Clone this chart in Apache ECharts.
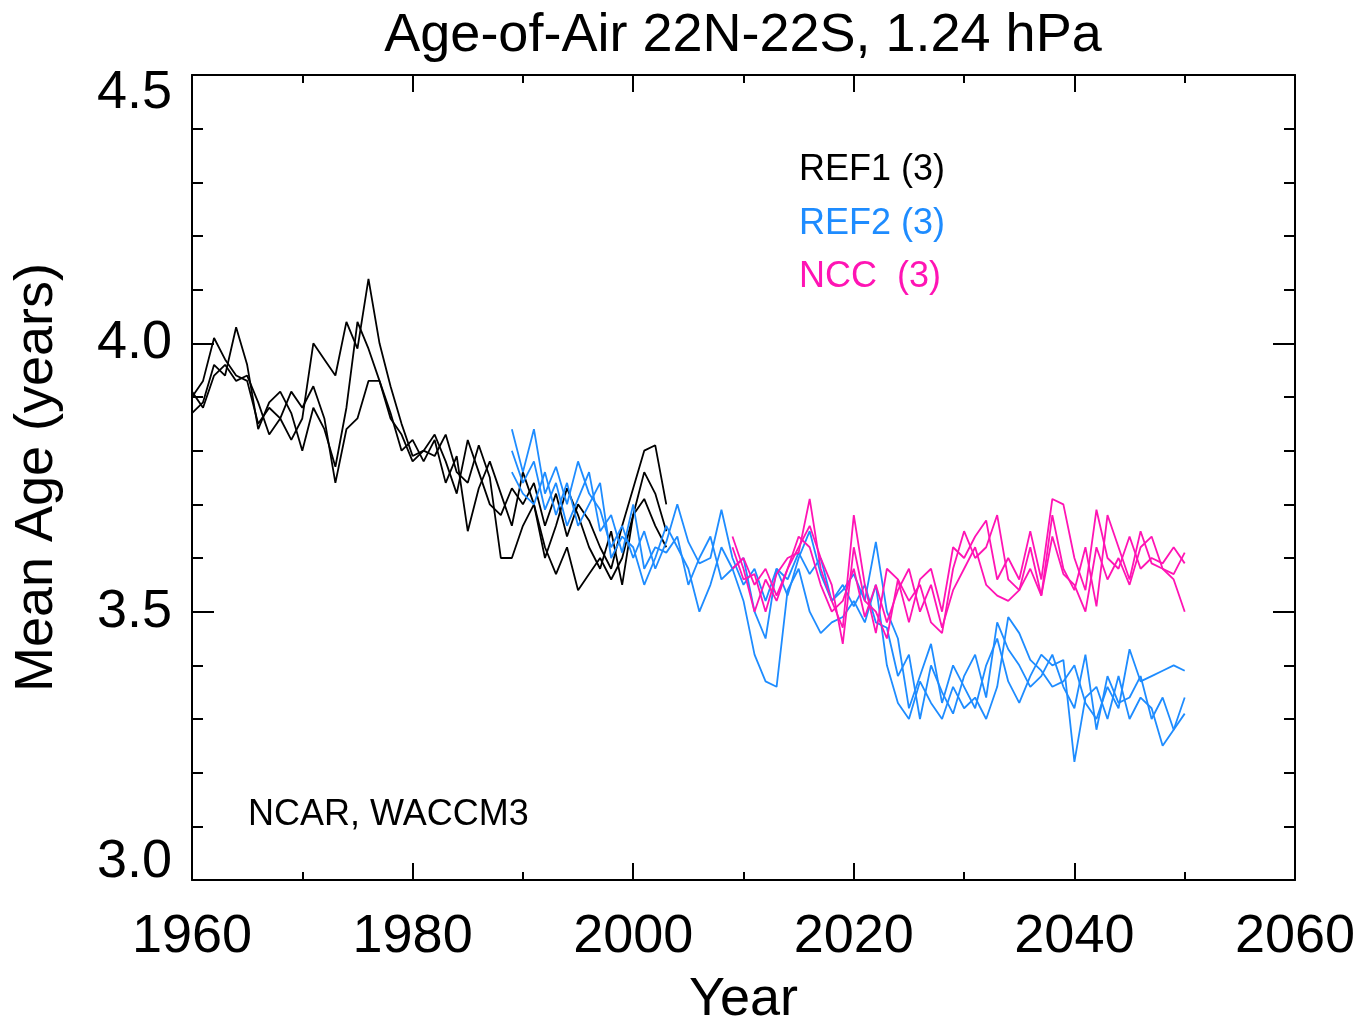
<!DOCTYPE html>
<html>
<head>
<meta charset="utf-8">
<script src="https://cdn.jsdelivr.net/npm/echarts@6/dist/echarts.min.js"></script>
<style>html,body{margin:0;padding:0;background:#fff}#c{width:1360px;height:1021px}</style>
</head>
<body>
<div id="c"></div>
<script>
// ---- data ----
const ref1Years = []; for (let y = 1960; y <= 2003; y++) ref1Years.push(y);
const ref2Years = []; for (let y = 1989; y <= 2050; y++) ref2Years.push(y);
const nccYears = []; for (let y = 2009; y <= 2050; y++) nccYears.push(y);

const ref1_a = [3.90,3.93,4.01,3.97,3.94,3.93,3.85,3.88,3.86,3.82,3.86,4.00,3.97,3.94,4.04,3.99,4.12,4.00,3.92,3.85,3.79,3.80,3.83,3.78,3.72,3.82,3.76,3.70,3.68,3.73,3.70,3.74,3.66,3.72,3.64,3.70,3.67,3.62,3.58,3.66,3.73,3.80,3.81,3.70];
const ref1_b = [3.87,3.89,3.96,3.94,4.03,3.96,3.84,3.89,3.91,3.87,3.80,3.88,3.84,3.77,3.88,4.04,3.99,3.93,3.87,3.80,3.82,3.78,3.82,3.74,3.79,3.65,3.73,3.78,3.72,3.66,3.76,3.70,3.60,3.66,3.73,3.68,3.62,3.58,3.65,3.55,3.68,3.76,3.72,3.65];
const ref1_c = [3.91,3.88,3.94,3.96,3.93,3.94,3.89,3.83,3.86,3.91,3.88,3.92,3.86,3.74,3.84,3.86,3.93,3.93,3.86,3.83,3.78,3.80,3.79,3.83,3.76,3.74,3.81,3.75,3.60,3.60,3.66,3.70,3.62,3.57,3.62,3.54,3.57,3.60,3.56,3.60,3.68,3.71,3.66,3.62];

const ref2_a = [3.84,3.76,3.84,3.72,3.77,3.70,3.78,3.72,3.69,3.62,3.66,3.60,3.65,3.58,3.63,3.70,3.63,3.59,3.60,3.69,3.60,3.55,3.58,3.52,3.58,3.56,3.61,3.57,3.60,3.52,3.54,3.57,3.52,3.63,3.50,3.45,3.32,3.38,3.44,3.33,3.40,3.36,3.32,3.40,3.45,3.37,3.33,3.38,3.42,3.40,3.41,3.22,3.34,3.36,3.30,3.38,3.30,3.34,3.32,3.25,3.28,3.34];
const ref2_b = [3.80,3.74,3.78,3.69,3.74,3.66,3.71,3.76,3.65,3.68,3.61,3.70,3.58,3.62,3.61,3.64,3.55,3.60,3.64,3.56,3.58,3.60,3.50,3.45,3.58,3.53,3.60,3.65,3.57,3.52,3.55,3.51,3.55,3.48,3.47,3.38,3.42,3.30,3.40,3.35,3.31,3.38,3.42,3.34,3.48,3.43,3.40,3.36,3.38,3.42,3.36,3.32,3.42,3.28,3.38,3.33,3.34,3.38,3.30,3.34,3.28,3.31];
const ref2_c = [3.76,3.72,3.70,3.76,3.68,3.74,3.66,3.70,3.74,3.60,3.64,3.62,3.55,3.60,3.66,3.62,3.58,3.50,3.55,3.62,3.58,3.52,3.42,3.37,3.36,3.54,3.58,3.50,3.46,3.48,3.49,3.52,3.48,3.55,3.40,3.33,3.30,3.37,3.33,3.30,3.36,3.32,3.34,3.30,3.36,3.49,3.46,3.41,3.39,3.36,3.37,3.40,3.33,3.30,3.36,3.32,3.43,3.37,3.38,3.39,3.40,3.39];

const ncc_a = [3.62,3.56,3.57,3.50,3.57,3.60,3.61,3.71,3.58,3.52,3.47,3.68,3.55,3.46,3.58,3.56,3.48,3.56,3.58,3.50,3.62,3.60,3.64,3.67,3.56,3.60,3.56,3.65,3.56,3.71,3.70,3.60,3.54,3.69,3.60,3.58,3.64,3.58,3.60,3.59,3.62,3.59];
const ncc_b = [3.64,3.58,3.50,3.56,3.52,3.58,3.62,3.66,3.60,3.55,3.44,3.62,3.52,3.50,3.45,3.56,3.52,3.55,3.48,3.46,3.58,3.65,3.60,3.62,3.68,3.56,3.54,3.62,3.53,3.64,3.57,3.55,3.50,3.62,3.56,3.60,3.55,3.62,3.64,3.58,3.57,3.61];
const ncc_c = [3.58,3.60,3.55,3.58,3.53,3.58,3.64,3.62,3.55,3.50,3.52,3.58,3.49,3.55,3.48,3.54,3.58,3.50,3.55,3.47,3.54,3.58,3.62,3.55,3.53,3.52,3.54,3.58,3.53,3.68,3.58,3.54,3.62,3.51,3.68,3.62,3.56,3.65,3.59,3.58,3.56,3.50];

const legendLabels = ['REF1 (3)', 'REF2 (3)', 'NCC  (3)'];
const modelLabel = 'NCAR, WACCM3';
const titleText = 'Age-of-Air 22N-22S, 1.24 hPa';

// ---- chart ----
const BLACK = '#000000', BLUE = '#1e8cff', PINK = '#ff14b4';
const FONT = 'Liberation Sans, Arial, Helvetica, sans-serif';

function pairs(xs, ys) { return xs.map((x, i) => [x, ys[i]]); }
function line(xs, ys, color) {
  return { type: 'line', data: pairs(xs, ys), showSymbol: false, symbol: 'none',
    lineStyle: { color: color, width: 1.8 }, itemStyle: { color: color }, silent: true, animation: false };
}

const chart = echarts.init(document.getElementById('c'), null, { renderer: 'canvas' });
const axisLineStyle = { lineStyle: { color: '#000', width: 2 } };
chart.setOption({
  backgroundColor: '#fff',
  animation: false,
  grid: { left: 192, right: 65, top: 75, bottom: 141, containLabel: false, outerBoundsMode: 'none' },
  xAxis: [
    { type: 'value', min: 1960, max: 2060, interval: 20, position: 'bottom',
      name: 'Year', nameLocation: 'middle', nameGap: 93,
      nameTextStyle: { fontFamily: FONT, fontSize: 54, color: '#000' },
      axisLine: axisLineStyle, axisTick: { inside: true, length: 17, lineStyle: { color: '#000', width: 2 } },
      minorTick: { show: true, splitNumber: 2, length: 8, lineStyle: { color: '#000', width: 2 } },
      axisLabel: { fontFamily: FONT, fontSize: 54, color: '#000', margin: 30, formatter: v => String(v) },
      splitLine: { show: false } },
    { type: 'value', min: 1960, max: 2060, interval: 20, position: 'top',
      axisLine: axisLineStyle, axisTick: { inside: true, length: 17, lineStyle: { color: '#000', width: 2 } },
      minorTick: { show: true, splitNumber: 2, length: 8, lineStyle: { color: '#000', width: 2 } },
      axisLabel: { show: false }, splitLine: { show: false } }
  ],
  yAxis: [
    { type: 'value', min: 3.0, max: 4.5, interval: 0.5, position: 'left',
      name: 'Mean Age (years)', nameLocation: 'middle', nameGap: 128, nameRotate: 90,
      nameTextStyle: { fontFamily: FONT, fontSize: 54, color: '#000' },
      axisLine: axisLineStyle, axisTick: { inside: true, length: 22, lineStyle: { color: '#000', width: 2 } },
      minorTick: { show: true, splitNumber: 5, length: 11, lineStyle: { color: '#000', width: 2 } },
      axisLabel: { fontFamily: FONT, fontSize: 54, lineHeight: 36, color: '#000', margin: 20, formatter: v => v.toFixed(1),
        verticalAlignMinLabel: 'bottom', verticalAlignMaxLabel: 'top' },
      splitLine: { show: false } },
    { type: 'value', min: 3.0, max: 4.5, interval: 0.5, position: 'right',
      axisLine: axisLineStyle, axisTick: { inside: true, length: 22, lineStyle: { color: '#000', width: 2 } },
      minorTick: { show: true, splitNumber: 5, length: 11, lineStyle: { color: '#000', width: 2 } },
      axisLabel: { show: false }, splitLine: { show: false } }
  ],
  series: [
    line(ref1Years, ref1_a, BLACK), line(ref1Years, ref1_b, BLACK), line(ref1Years, ref1_c, BLACK),
    line(ref2Years, ref2_a, BLUE), line(ref2Years, ref2_b, BLUE), line(ref2Years, ref2_c, BLUE),
    line(nccYears, ncc_a, PINK), line(nccYears, ncc_b, PINK), line(nccYears, ncc_c, PINK)
  ],
  graphic: [
    { type: 'text', x: 743, y: 9, style: { text: titleText, fill: BLACK, font: '54px ' + FONT, textAlign: 'center', textVerticalAlign: 'top' } },
    { type: 'text', left: 799, top: 152, style: { text: legendLabels[0], fill: BLACK, font: '36px ' + FONT } },
    { type: 'text', left: 799, top: 206, style: { text: legendLabels[1], fill: BLUE, font: '36px ' + FONT } },
    { type: 'text', left: 799, top: 259, style: { text: legendLabels[2], fill: PINK, font: '36px ' + FONT } },
    { type: 'text', left: 248, top: 797, style: { text: modelLabel, fill: BLACK, font: '36px ' + FONT } }
  ]
});
</script>
</body>
</html>
